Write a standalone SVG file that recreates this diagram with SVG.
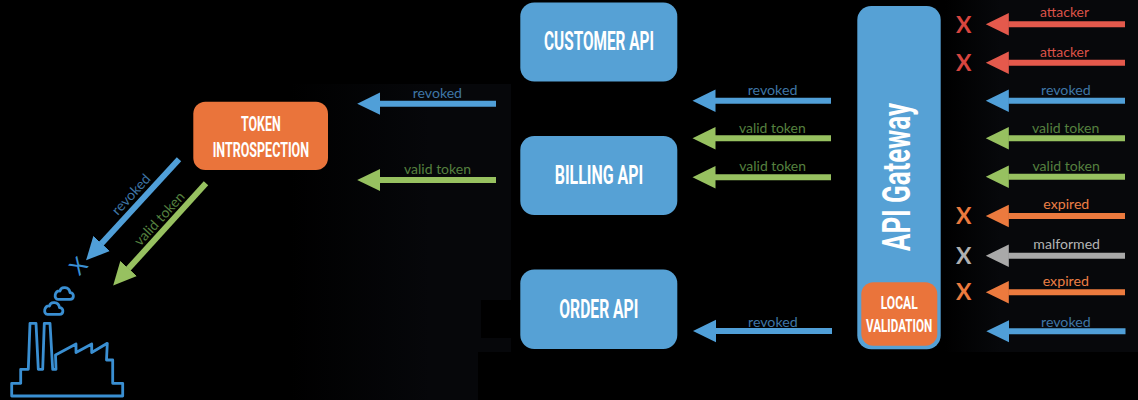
<svg xmlns="http://www.w3.org/2000/svg" width="1138" height="400" viewBox="0 0 1138 400">
<style>
.box{fill:#56a1d5}
.org{fill:#ea743b}
.t{font-family:"Roboto","Liberation Sans",sans-serif;font-weight:700;fill:#fff}
.l{font-family:"Lato","Open Sans",sans-serif;font-size:14px}
.s{fill:none;stroke-width:6}
.bs{stroke:#509fd8}.gs{stroke:#97c160}.rs{stroke:#e4594c}.os{stroke:#ec7a3e}.ys{stroke:#a9a9a9}
.bt{fill:#3f76a6}.gt{fill:#55803f}.rt{fill:#dc5248}.ot{fill:#ec7f45}.yt{fill:#b4b4b4}
.x{font-family:"Lato","Open Sans",sans-serif;font-weight:700;font-size:23px;text-anchor:middle}
.f{fill:none;stroke:#3a8fd2;stroke-width:2.8;stroke-linejoin:round}
</style>
<defs>
<linearGradient id="fadeL" gradientUnits="userSpaceOnUse" x1="290" y1="0" x2="430" y2="0"><stop offset="0" stop-color="#06070a" stop-opacity="0"/><stop offset="1" stop-color="#06070a"/></linearGradient>
<linearGradient id="fadeR" gradientUnits="userSpaceOnUse" x1="945" y1="0" x2="1000" y2="0"><stop offset="0" stop-color="#07080b" stop-opacity="0"/><stop offset="1" stop-color="#07080b"/></linearGradient>
<marker id="hb" markerUnits="userSpaceOnUse" markerWidth="24" markerHeight="24" refX="0.5" refY="12" orient="auto"><path d="M0 .8V23.2L23 12Z" fill="#509fd8"/></marker>
<marker id="hg" markerUnits="userSpaceOnUse" markerWidth="24" markerHeight="24" refX="0.5" refY="12" orient="auto"><path d="M0 .8V23.2L23 12Z" fill="#97c160"/></marker>
<marker id="hr" markerUnits="userSpaceOnUse" markerWidth="24" markerHeight="24" refX="0.5" refY="12" orient="auto"><path d="M0 .8V23.2L23 12Z" fill="#e4594c"/></marker>
<marker id="ho" markerUnits="userSpaceOnUse" markerWidth="24" markerHeight="24" refX="0.5" refY="12" orient="auto"><path d="M0 .8V23.2L23 12Z" fill="#ec7a3e"/></marker>
<marker id="hy" markerUnits="userSpaceOnUse" markerWidth="24" markerHeight="24" refX="0.5" refY="12" orient="auto"><path d="M0 .8V23.2L23 12Z" fill="#a9a9a9"/></marker>
<path id="cloud" d="M-6 6.3H6C10.5 6.3 10.5 -.5 6 -.5C5 -6.5 -3 -7 -4 -2C-9.5 -3 -10.5 6.3 -6 6.3Z"/>
</defs>
<rect width="1138" height="400" fill="#000"/>
<path d="M945 0H1138V352H945Z" fill="url(#fadeR)"/>
<path d="M290 84H511V300H481V338H511V352H478V400H290Z" fill="url(#fadeL)"/>

<g id="connectors">
<line class="s rs" x1="1125" y1="24.3" x2="1008.3" y2="24.3" marker-end="url(#hr)"/>
<line class="s rs" x1="1125" y1="62.7" x2="1008.3" y2="62.7" marker-end="url(#hr)"/>
<line class="s bs" x1="1125" y1="100.7" x2="1008.3" y2="100.7" marker-end="url(#hb)"/>
<line class="s gs" x1="1125" y1="138.3" x2="1008.3" y2="138.3" marker-end="url(#hg)"/>
<line class="s gs" x1="1125" y1="176.7" x2="1008.3" y2="176.7" marker-end="url(#hg)"/>
<line class="s os" x1="1125" y1="216" x2="1008.3" y2="216" marker-end="url(#ho)"/>
<line class="s ys" x1="1125" y1="255.7" x2="1008.3" y2="255.7" marker-end="url(#hy)"/>
<line class="s os" x1="1125" y1="292.3" x2="1008.3" y2="292.3" marker-end="url(#ho)"/>
<line class="s bs" x1="1125.5" y1="331.3" x2="1008.8" y2="331.3" marker-end="url(#hb)"/>
<line class="s bs" x1="831" y1="100.7" x2="715" y2="100.7" marker-end="url(#hb)"/>
<line class="s gs" x1="831" y1="138.3" x2="715" y2="138.3" marker-end="url(#hg)"/>
<line class="s gs" x1="831" y1="177.3" x2="715" y2="177.3" marker-end="url(#hg)"/>
<line class="s bs" x1="832" y1="331" x2="715.5" y2="331" marker-end="url(#hb)"/>
<line class="s bs" x1="496" y1="103.7" x2="379.7" y2="103.7" marker-end="url(#hb)"/>
<line class="s gs" x1="496" y1="180" x2="379.7" y2="180" marker-end="url(#hg)"/>
<line class="s bs" x1="179" y1="159.3" x2="101.3" y2="243.8" marker-end="url(#hb)"/>
<line class="s gs" x1="206" y1="183.3" x2="128.3" y2="268.8" marker-end="url(#hg)"/>

<text class="l rt" x="1040" y="16.7" textLength="49" lengthAdjust="spacingAndGlyphs">attacker</text>
<text class="l rt" x="1040" y="56.7" textLength="49" lengthAdjust="spacingAndGlyphs">attacker</text>
<text class="l bt" x="1041" y="95" textLength="49.7" lengthAdjust="spacingAndGlyphs">revoked</text>
<text class="l gt" x="1032" y="133.3" textLength="67.3" lengthAdjust="spacingAndGlyphs">valid token</text>
<text class="l gt" x="1032.5" y="171.3" textLength="67.3" lengthAdjust="spacingAndGlyphs">valid token</text>
<text class="l ot" x="1043.3" y="209.3" textLength="46" lengthAdjust="spacingAndGlyphs">expired</text>
<text class="l yt" x="1033.3" y="249.3" textLength="66.7" lengthAdjust="spacingAndGlyphs">malformed</text>
<text class="l ot" x="1042.7" y="286" textLength="46.3" lengthAdjust="spacingAndGlyphs">expired</text>
<text class="l bt" x="1041" y="326.7" textLength="49.7" lengthAdjust="spacingAndGlyphs">revoked</text>
<text class="l bt" x="747.7" y="95" textLength="49.7" lengthAdjust="spacingAndGlyphs">revoked</text>
<text class="l gt" x="739" y="133.3" textLength="66.7" lengthAdjust="spacingAndGlyphs">valid token</text>
<text class="l gt" x="739.3" y="171.3" textLength="66.7" lengthAdjust="spacingAndGlyphs">valid token</text>
<text class="l bt" x="748" y="326.7" textLength="49.7" lengthAdjust="spacingAndGlyphs">revoked</text>
<text class="l bt" x="412.7" y="97.7" textLength="49.3" lengthAdjust="spacingAndGlyphs">revoked</text>
<text class="l gt" x="404" y="174.3" textLength="67" lengthAdjust="spacingAndGlyphs">valid token</text>
<text class="l bt" transform="translate(131.7 195) rotate(-47.4)" x="-24.8" y="4" textLength="49.7" lengthAdjust="spacingAndGlyphs">revoked</text>
<text class="l gt" transform="translate(160 219.3) rotate(-47.4)" x="-33.5" y="4" textLength="67" lengthAdjust="spacingAndGlyphs">valid token</text>
</g>

<g id="rejections">
<text class="x" x="963.7" y="32.5" fill="#d8453f">X</text>
<text class="x" x="963.7" y="70.5" fill="#d8453f">X</text>
<text class="x" x="963.7" y="224" fill="#ec7a3e">X</text>
<text class="x" x="963.7" y="264" fill="#b0b0b0">X</text>
<text class="x" x="963.7" y="300" fill="#ec7a3e">X</text>
</g>

<g id="customer-api">
<rect class="box" x="520.3" y="2.5" width="157" height="79" rx="14"/>
<text class="t" x="544" y="50" font-size="25" textLength="110" lengthAdjust="spacingAndGlyphs">CUSTOMER API</text>
</g>
<g id="billing-api">
<rect class="box" x="520.3" y="136" width="157" height="79" rx="14"/>
<text class="t" x="554.7" y="183.7" font-size="25" textLength="88.6" lengthAdjust="spacingAndGlyphs">BILLING API</text>
</g>
<g id="order-api">
<rect class="box" x="520.3" y="269.5" width="157" height="79.5" rx="14"/>
<text class="t" x="559.3" y="317.7" font-size="25" textLength="79" lengthAdjust="spacingAndGlyphs">ORDER API</text>
</g>
<g id="token-introspection">
<rect class="org" x="193.3" y="101.7" width="134.7" height="68.3" rx="12"/>
<text class="t" x="241" y="131" font-size="20" textLength="39.7" lengthAdjust="spacingAndGlyphs">TOKEN</text>
<text class="t" x="212.7" y="156.7" font-size="20" textLength="96.3" lengthAdjust="spacingAndGlyphs">INTROSPECTION</text>
</g>
<g id="api-gateway">
<rect class="box" x="857.3" y="6" width="83.4" height="343.3" rx="14"/>
<text class="t" transform="translate(909.5 251) rotate(-90)" x="0" y="0" font-size="38" textLength="148" lengthAdjust="spacingAndGlyphs">API Gateway</text>
</g>
<g id="local-validation">
<rect class="org" x="861.3" y="282.3" width="76" height="63.4" rx="12"/>
<text class="t" x="880.7" y="309.3" font-size="18.5" textLength="37" lengthAdjust="spacingAndGlyphs">LOCAL</text>
<text class="t" x="866" y="331.7" font-size="18.5" textLength="66.3" lengthAdjust="spacingAndGlyphs">VALIDATION</text>
</g>
<g id="factory">
<path class="f" d="M11.7 396H122.7V383.3H112.7V360H106.5L107.3 343.3L91.7 352.5V344L76 352.5V344L55.5 355L56 369.3H52.7L50 323.3H44.3L42.7 369.3H38.3L36 323.3H30L28.3 369.3H20.7V383.3H11.7Z"/>
<use href="#cloud" class="f" transform="translate(64 293)"/>
<use href="#cloud" class="f" transform="translate(53.5 308)"/>
<text transform="translate(78.3 266) rotate(-47)" x="0" y="7.9" font-family="Lato, sans-serif" font-weight="400" font-size="22" text-anchor="middle" fill="#3a8fd2">X</text>
</g>
</svg>
